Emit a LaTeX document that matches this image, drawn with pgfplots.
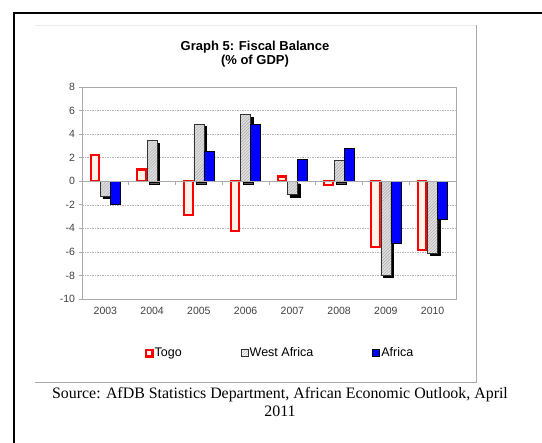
\documentclass[border=0pt]{standalone}
\usepackage{fontspec}
\setmainfont{Liberation Sans}
\newfontfamily\srcfont{Liberation Serif}
\usepackage{pgfplots}
\pgfplotsset{compat=1.18}
\usetikzlibrary{patterns}
\definecolor{togoRed}{RGB}{255,0,0}
\definecolor{togoFill}{RGB}{255,242,230}
\definecolor{waFill}{RGB}{225,225,225}
\definecolor{afBlue}{RGB}{0,0,255}
\definecolor{frameGray}{RGB}{170,170,170}
\definecolor{gridGray}{RGB}{180,180,180}
\pgfplotstableread{
x togo wa africa
0 2.2 -1.25 -2.0
1 1.0 3.45 0.0
2 -2.9 4.85 2.55
3 -4.25 5.65 4.85
4 0.4 -1.15 1.85
5 -0.3 1.75 2.8
6 -5.6 -7.95 -5.25
7 -5.85 -6.1 -3.2
}\datatable
\begin{document}
\begin{tikzpicture}
\path[use as bounding box] (0,0) rectangle (542bp,443bp);
% outer frame (top and left)
\draw[black, line width=2.5bp] (14bp,0bp) -- (14bp,430bp) -- (542bp,430bp);
% chart area frame
\draw[gray!15, line width=0.6bp] (35bp,418bp) -- (476bp,418bp);
\draw[frameGray, line width=0.8bp] (35bp,61bp) -- (476bp,61bp) -- (476bp,418bp);
% titles
\node[font=\bfseries\fontsize{13bp}{15bp}\selectfont] at (255bp,396bp) {Graph 5: Fiscal Balance};
\node[font=\bfseries\fontsize{13bp}{15bp}\selectfont] at (255bp,382bp) {(\% of GDP)};
\begin{axis}[
  at={(82bp,144bp)}, anchor=south west,
  scale only axis, width=374bp, height=212bp,
  xmin=-0.5, xmax=7.5, ymin=-10, ymax=8,
  axis line style={frameGray, line width=0.8bp},
  xtick={0,...,7},
  xticklabels={2003,2004,2005,2006,2007,2008,2009,2010},
  x tick style={draw=none},
  xticklabel style={yshift=-1bp},
  ytick={-10,-8,...,8},
  tick pos=left, tick align=outside,
  y tick style={frameGray, line width=0.6bp},
  major tick length=3.5bp,
  ymajorgrids,
  major grid style={gridGray, dash pattern=on 1.5bp off 1bp, line width=0.5bp},
  tick label style={font=\fontsize{10.5bp}{12bp}\selectfont, text=black!75},
  /pgf/number format/assume math mode=true,
  ybar, 
  legend columns=3,
  legend style={at={(0.528,-0.255)}, anchor=center, draw=none,
    font=\fontsize{12.5bp}{14bp}\selectfont,
    nodes={inner xsep=1bp},
    /tikz/every even column/.append style={column sep=58bp}},
  legend cell align=left,
]
\addplot[draw=togoRed, fill=togoFill, line width=2.2bp, bar width=8.5bp, bar shift=-10.5bp,
  legend image code/.code={\draw[togoRed, line width=2.4bp, fill=white] (1.2bp,-3.3bp) rectangle (7.8bp,3.3bp);}]
  table[x=x, y=togo] {\datatable};
\addlegendentry{Togo}
\addplot[draw=black, fill=black, bar width=10bp, bar shift=2.5bp, yshift=-2.5bp, forget plot]
  table[x=x, y=wa] {\datatable};
\addplot[draw=black!80, fill=waFill, line width=0.6bp, bar width=10bp, bar shift=0bp,
  postaction={pattern=north east lines, pattern color=gray!70},
  legend image code/.code={\draw[black!80, line width=0.9bp, fill=white] (0.5bp,-3.5bp) rectangle (7.5bp,3.5bp);}]
  table[x=x, y=wa] {\datatable};
\addlegendentry{West Africa}
\addplot[draw=black, fill=afBlue, line width=0.6bp, bar width=10bp, bar shift=10bp,
  legend image code/.code={\draw[black, line width=0.9bp, fill=afBlue] (0.5bp,-3.5bp) rectangle (7.5bp,3.5bp);}]
  table[x=x, y=africa] {\datatable};
\addlegendentry{Africa}
\draw[frameGray, line width=0.8bp] (axis cs:-0.5,0) -- (axis cs:7.5,0);
\pgfplotsinvokeforeach{0.5,1.5,2.5,3.5,4.5,5.5,6.5}{
  \draw[frameGray, line width=0.6bp] (axis cs:#1,0) -- ([yshift=-3.5bp]axis cs:#1,0);
}
\end{axis}
\node[font=\srcfont\fontsize{15.9bp}{18bp}\selectfont, align=center] at (280bp,41bp)
  {Source: AfDB Statistics Department, African Economic Outlook, April\\2011};
\end{tikzpicture}
\end{document}
